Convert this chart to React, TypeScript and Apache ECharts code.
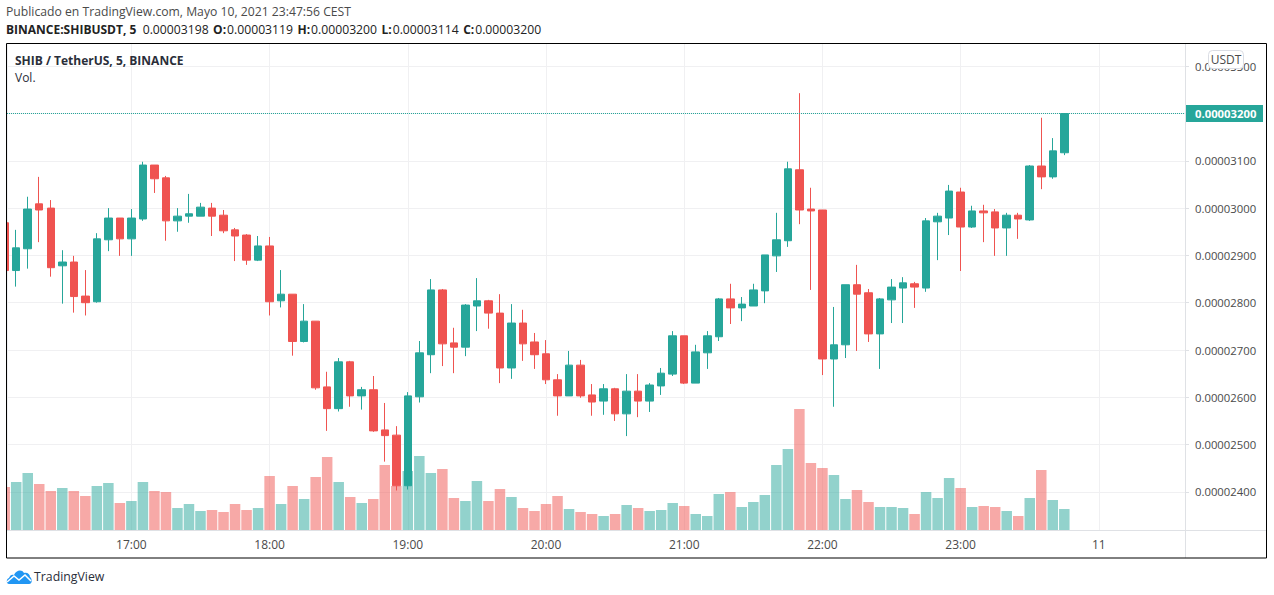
import React, { useEffect, useRef } from 'react'
import * as echarts from 'echarts'

// prices are in units of 0.00000001
const opens = [
  2969, 2868, 2914, 3009, 3000, 2878, 2886, 2814, 2802, 2933, 2979, 2935,
  2977, 3091, 3064, 2973, 2983, 2983, 3000, 2985, 2954, 2943, 2890, 2920,
  2804, 2818, 2718, 2761, 2622, 2576, 2675, 2603, 2616, 2531, 2520, 2413,
  2601, 2690, 2827, 2715, 2706, 2793, 2804, 2778, 2662, 2757, 2717, 2692,
  2637, 2603, 2668, 2605, 2592, 2618, 2565, 2613, 2592, 2624, 2649, 2730,
  2630, 2694, 2728, 2808, 2789, 2793, 2825, 2899, 2931, 3081, 2998, 2996,
  2681, 2711, 2838, 2821, 2734, 2806, 2831, 2840, 2831, 2971, 2979, 3034,
  2960, 2994, 2992, 2958, 2985, 2975, 3089, 3066, 3117,
]
const closes = [
  2868, 2916, 2998, 2996, 2874, 2886, 2813, 2800, 2935, 2979, 2935, 2979,
  3091, 3062, 2973, 2983, 2988, 3002, 2983, 2952, 2941, 2890, 2920, 2802,
  2818, 2718, 2761, 2620, 2576, 2675, 2603, 2616, 2529, 2519, 2413, 2603,
  2694, 2827, 2713, 2706, 2795, 2804, 2778, 2662, 2757, 2713, 2690, 2637,
  2603, 2668, 2603, 2590, 2618, 2565, 2613, 2592, 2626, 2651, 2730, 2630,
  2696, 2730, 2808, 2789, 2797, 2827, 2901, 2933, 3083, 2996, 2994, 2681,
  2711, 2838, 2818, 2734, 2808, 2833, 2842, 2833, 2973, 2983, 3036, 2960,
  2994, 2990, 2958, 2985, 2977, 3089, 3066, 3121, 3200,
]
const lows = [
  2835, 2834, 2872, 2928, 2855, 2798, 2779, 2773, 2800, 2909, 2899, 2899,
  2973, 3032, 2931, 2950, 2969, 2983, 2941, 2947, 2888, 2880, 2888, 2773,
  2790, 2688, 2716, 2616, 2529, 2570, 2580, 2574, 2527, 2464, 2403, 2405,
  2589, 2651, 2666, 2651, 2687, 2740, 2745, 2630, 2639, 2677, 2660, 2628,
  2561, 2603, 2599, 2561, 2563, 2550, 2518, 2558, 2569, 2605, 2645, 2628,
  2630, 2660, 2719, 2755, 2761, 2793, 2799, 2865, 2918, 2966, 2827, 2647,
  2580, 2683, 2698, 2717, 2660, 2757, 2757, 2789, 2823, 2890, 2943, 2867,
  2958, 2928, 2899, 2899, 2935, 2973, 3040, 3062, 3112,
]
const highs = [
  2971, 2954, 3024, 3066, 3017, 2911, 2899, 2869, 2947, 3000, 2979, 2998,
  3098, 3091, 3068, 3000, 3030, 3011, 3011, 2996, 2958, 2945, 2941, 2939,
  2869, 2818, 2797, 2761, 2654, 2683, 2677, 2622, 2645, 2588, 2539, 2611,
  2719, 2850, 2829, 2747, 2797, 2852, 2806, 2818, 2797, 2785, 2736, 2721,
  2649, 2698, 2679, 2628, 2628, 2620, 2649, 2649, 2630, 2662, 2740, 2730,
  2711, 2740, 2810, 2840, 2812, 2840, 2901, 2990, 3098, 3243, 3043, 2996,
  2791, 2838, 2880, 2829, 2810, 2850, 2854, 2844, 2979, 2990, 3049, 3043,
  3005, 3007, 2998, 2990, 2990, 3091, 3191, 3148, 3200,
]
const volumes = [
  43, 48, 57, 46, 39, 42, 39, 34, 44, 47, 27, 29,
  48, 39, 38, 22, 26, 19, 20, 18, 26, 20, 22, 54,
  26, 44, 31, 53, 73, 48, 33, 27, 31, 65, 44, 59,
  74, 57, 61, 32, 29, 49, 29, 41, 33, 22, 19, 26,
  34, 21, 18, 16, 14, 16, 25, 22, 19, 20, 27, 24,
  16, 14, 36, 38, 23, 28, 35, 65, 81, 121, 67, 62,
  55, 31, 40, 28, 23, 23, 22, 16, 38, 32, 52, 42,
  23, 24, 23, 19, 14, 32, 60, 30, 21,
]
const lastPrice = 3200

const UP = '#26a69a'
const DOWN = '#ef5350'
const TEXT = '#4a4a4a'
const FONT = '"Open Sans", sans-serif'
const MINUTE = 60000

const firstBar = new Date(2021, 4, 10, 16, 5).getTime()
const times = opens.map((_, i) => firstBar + i * 5 * MINUTE)
const xMin = new Date(2021, 4, 10, 16, 6).getTime()
const xMax = new Date(2021, 4, 11, 0, 37, 24).getTime()
// a time axis with bars widens its range by half a bar on each side, so hand it a narrower one
const barInset = 2.279 * MINUTE

echarts.graphic.registerShape(
  'tvCloud',
  echarts.graphic.extendPath(
    'M3 15 C0 15 0 10 3 9 C4 6 6 5 8 6 C10 1 16 0 18 4 C21 3 24 5 24 8 C26 9 27 15 23 15 Z',
    {},
  ),
)

const App: React.FC = () => {
  const chartRef = useRef<HTMLDivElement>(null)

  useEffect(() => {
    if (!chartRef.current) return
    const chart = echarts.init(chartRef.current, undefined, { renderer: 'svg' })

    const keyStyle = { fontSize: 12, fontWeight: 'bold', color: '#222', fontFamily: FONT, padding: [0, 1, 0, 4.5] }

    chart.setOption({
      animation: false,
      backgroundColor: '#fff',
      textStyle: { fontFamily: FONT },
      title: [
        {
          text: 'Publicado en TradingView.com, Mayo 10, 2021 23:47:56 CEST',
          left: 6,
          top: 5,
          padding: 0,
          textStyle: { fontSize: 12.2, fontWeight: 'normal', color: TEXT, fontFamily: FONT },
        },
        {
          text: '{b|BINANCE:SHIBUSDT, 5}  0.00003198{k|O:}0.00003119{k|H:}0.00003200{k|L:}0.00003114{k|C:}0.00003200',
          left: 6,
          top: 23,
          padding: 0,
          textStyle: {
            fontSize: 12.2,
            fontWeight: 'normal',
            color: '#222',
            fontFamily: FONT,
            rich: {
              b: { fontSize: 12, fontWeight: 'bold', color: '#222', fontFamily: FONT },
              k: keyStyle,
            },
          },
        },
        {
          text: 'SHIB / TetherUS, 5, BINANCE',
          left: 15,
          top: 54,
          padding: 0,
          textStyle: { fontSize: 12, fontWeight: 'bold', color: '#2a2e39', fontFamily: FONT },
        },
        {
          text: 'Vol.',
          left: 15,
          top: 71,
          padding: 0,
          textStyle: { fontSize: 12, fontWeight: 'normal', color: '#2a2e39', fontFamily: FONT },
        },
        {
          text: 'TradingView',
          left: 34,
          top: 570,
          padding: 0,
          textStyle: { fontSize: 12.3, fontWeight: 'normal', color: '#2a2e39', fontFamily: FONT },
        },
      ],
      grid: [
        // volume pane shares the chart area, price grid is stretched so its ends are whole hundreds
        { left: 7, width: 1178, top: 44, height: 486 },
        { left: 7, width: 1178, top: 18.9, height: 520.3 },
      ],
      xAxis: [
        {
          type: 'time',
          min: xMin + barInset,
          max: xMax - barInset,
          minInterval: 60 * MINUTE,
          maxInterval: 60 * MINUTE,
          gridIndex: 0,
          axisLine: { show: true, lineStyle: { color: '#dfe1e5', width: 1 } },
          axisTick: { show: false },
          axisLabel: {
            color: TEXT,
            fontSize: 12,
            fontFamily: FONT,
            margin: 8,
            showMinLabel: false,
            showMaxLabel: false,
            formatter: (value: number) => {
              const h = new Date(value).getHours()
              return h === 0 ? '11' : `${h}:00`
            },
          },
          splitLine: { show: true, lineStyle: { color: '#f0f0f2', width: 1 } },
        },
        {
          type: 'time',
          min: xMin,
          max: xMax,
          gridIndex: 1,
          show: false,
        },
      ],
      yAxis: [
        { type: 'value', gridIndex: 0, min: 0, max: 486, show: false },
        {
          type: 'value',
          gridIndex: 1,
          position: 'right',
          min: 2300,
          max: 3400,
          interval: 100,
          axisLine: { show: false },
          axisTick: { show: true, length: 4, lineStyle: { color: '#dfe1e5' } },
          axisLabel: {
            color: TEXT,
            fontSize: 11.3,
            fontFamily: FONT,
            margin: 10,
            showMinLabel: false,
            showMaxLabel: false,
            formatter: (v: number) => (v * 1e-8).toFixed(8),
          },
          splitLine: {
            show: true,
            showMinLine: false,
            showMaxLine: false,
            lineStyle: { color: '#f0f0f2', width: 1 },
          },
        },
      ],
      series: [
        {
          type: 'bar',
          name: 'Vol',
          xAxisIndex: 0,
          yAxisIndex: 0,
          barWidth: 10.5,
          clip: true,
          z: 2,
          data: volumes.map((v, i) => ({
            value: [times[i], v],
            itemStyle: {
              color: closes[i] >= opens[i] ? 'rgba(38,166,154,0.5)' : 'rgba(239,83,80,0.5)',
            },
          })),
        },
        {
          type: 'candlestick',
          name: 'SHIBUSDT',
          xAxisIndex: 1,
          yAxisIndex: 1,
          barWidth: 8,
          clip: true,
          z: 3,
          itemStyle: {
            color: UP,
            color0: DOWN,
            borderColor: UP,
            borderColor0: DOWN,
            borderWidth: 1,
          },
          data: opens.map((o, i) => [times[i], o, closes[i], lows[i], highs[i]]),
          markLine: {
            silent: true,
            symbol: 'none',
            lineStyle: { color: UP, type: 'dotted', width: 1 },
            label: {
              show: true,
              position: 'end',
              distance: 0,
              formatter: (lastPrice * 1e-8).toFixed(8),
              color: '#fff',
              fontSize: 11.3,
              fontWeight: 'bold',
              fontFamily: FONT,
              backgroundColor: UP,
              width: 68,
              height: 17,
              lineHeight: 17,
              padding: [0, 0, 0, 10],
              align: 'left',
            },
            data: [{ yAxis: lastPrice }],
          },
        },
      ],
      graphic: [
        {
          type: 'rect',
          z: 95,
          shape: { x: 0, y: 44, width: 6.5, height: 514 },
          style: { fill: '#fff' },
        },
        {
          type: 'line',
          z: 90,
          shape: { x1: 1185.5, y1: 44, x2: 1185.5, y2: 558 },
          style: { stroke: '#dfe1e5', lineWidth: 1 },
        },
        {
          type: 'line',
          z: 90,
          shape: { x1: 1185.5, y1: 530.5, x2: 1267, y2: 530.5 },
          style: { stroke: '#dfe1e5', lineWidth: 1 },
        },
        {
          type: 'rect',
          z: 100,
          shape: { x: 6.5, y: 43.5, width: 1260, height: 514.5 },
          style: { fill: 'none', stroke: '#000', lineWidth: 1 },
        },
        {
          type: 'rect',
          z: 100,
          shape: { x: 1208.5, y: 50.5, width: 35, height: 18, r: 4 },
          style: { fill: '#fff', stroke: '#dadde4', lineWidth: 1 },
        },
        {
          type: 'text',
          z: 101,
          x: 1226,
          y: 59.5,
          style: {
            text: 'USDT',
            fill: TEXT,
            font: `12px ${FONT}`,
            textAlign: 'center',
            textVerticalAlign: 'middle',
          },
        },
        {
          type: 'tvCloud',
          x: 6,
          y: 569,
          style: { fill: '#2196f3' },
        },
        {
          type: 'polyline',
          x: 6,
          y: 569,
          shape: { points: [[1, 13], [8, 7], [13, 11], [19, 6], [25, 12]] },
          style: { fill: 'none', stroke: '#fff', lineWidth: 1.5 },
        },
      ],
    })

    return () => {
      chart.dispose()
    }
  }, [])

  return (
    <div
      ref={chartRef}
      style={{ position: 'absolute', left: 0, top: 0, width: 1274, height: 595 }}
    />
  )
}

export default App
